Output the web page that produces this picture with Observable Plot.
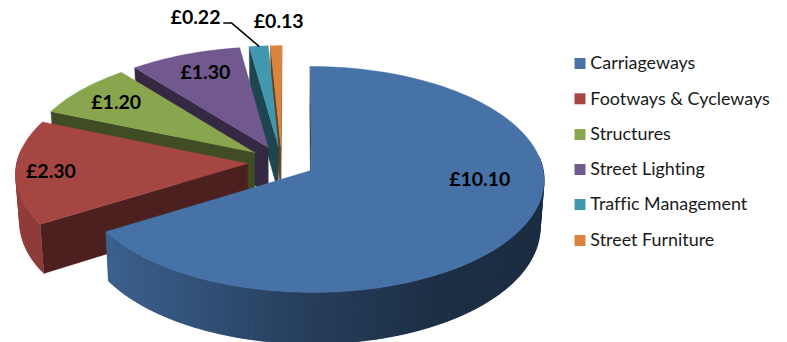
<!DOCTYPE html>
<html>
<head>
<meta charset="utf-8">
<style>html,body{margin:0;padding:0;background:#fff}svg{display:block}</style>
<script src="https://cdn.jsdelivr.net/npm/d3@7"></script>
<script src="https://cdn.jsdelivr.net/npm/@observablehq/plot@0.6"></script>
</head>
<body>
<div id="chart"></div>
<script>
// Highway maintenance spend by asset group
const categories = ["Carriageways", "Footways & Cycleways", "Structures", "Street Lighting", "Traffic Management", "Street Furniture"];
const values = [10.10, 2.30, 1.20, 1.30, 0.22, 0.13];
const colors = ["#4672A8", "#A64643", "#89A54E", "#71588F", "#4198AF", "#DB843D"];

// Value label anchors and legend rows, in the same unit space as the pie
const labelSpots = [[0.86, 0.155], [-1.0, 0.083], [-0.717, -0.539], [-0.33, -0.809], [-0.373, -1.304], [-0.012, -1.268]];
const legendRows = [-0.89, -0.572, -0.25, 0.065, 0.38, 0.705];
const legendSwatchX = 1.295;
const legendTextX = 1.34;
const leaderStart = [[-0.25, -1.254], [-0.216, -1.254]];

// Pie geometry: explosion, perspective strength and centre, extrusion depth, base shrink
const explode = 0.148;
const perspective = 0.08;
const vanishU = 0.06;
const depth = 0.423;
const baseShrink = 0.985;

const arcs = d3.pie().sort(null).value(d => d)(values);
const arcStep = Math.PI / 120;

// Projects a point on the pie's plane to unit screen space, on the top or the base
function project(u, v, isTop) {
  const s = 1 / (1 - perspective * v);
  const x = (u - vanishU) * s + vanishU;
  return isTop
    ? {x, y: v * s}
    : {x: x * baseShrink, y: v * s + depth * s};
}

// Lighter at the left of the pie, falling off toward the right
const rimShade = d3.scaleLinear().domain([-1, -0.85, 0, 0.5, 1]).range([0.88, 0.85, 0.54, 0.41, 0.39]);

const shade = (c, f) => d3.interpolateRgb("#000", c)(f);

const polygons = [];
let nextId = 0;
function addPolygon(points, fill) {
  const id = nextId++;
  [...points, points[0]].forEach(p => polygons.push({...p, id, fill}));
}

// Painted back to front, last slice first
d3.range(arcs.length - 1, -1, -1).forEach(i => {
  const {startAngle: a0, endAngle: a1} = arcs[i];
  const mid = (a0 + a1) / 2;
  const ou = explode * Math.sin(mid), ov = -explode * Math.cos(mid);
  const at = (t) => [ou + Math.sin(t), ov - Math.cos(t)];
  const c = colors[i];

  // Radial walls that face the viewer
  for (const [t, visible] of [[a0, -Math.sin(a0) > -1e-6], [a1, Math.sin(a1) > -1e-6]]) {
    if (!visible) continue;
    const [u, v] = at(t);
    addPolygon([project(ou, ov, true), project(u, v, true), project(u, v, false), project(ou, ov, false)], shade(c, 0.46));
  }

  // Outer rim: short shaded strips, each running under the next one
  const n = Math.max(1, Math.ceil((a1 - a0) / arcStep));
  const dt = (a1 - a0) / n;
  for (let k = 0; k < n; k++) {
    const t0 = a0 + dt * k, t1 = a0 + dt * Math.min(n, k + 2);
    const tm = a0 + dt * (k + 0.5);
    if (-Math.cos(tm) < -0.12) continue;
    const pts = [];
    for (let t = t0; t < t1 + dt / 2; t += dt) { const [u, v] = at(t); pts.push(project(u, v, true)); }
    for (let t = t1; t > t0 - dt / 2; t -= dt) { const [u, v] = at(t); pts.push(project(u, v, false)); }
    addPolygon(pts, shade(c, rimShade(Math.sin(tm))));
  }

  // Top face
  const top = [project(ou, ov, true)];
  for (let k = 0; k <= n; k++) {
    const [u, v] = at(a0 + dt * k);
    top.push(project(u, v, true));
  }
  addPolygon(top, c);
});

// Leader from the £0.22 label to its slice
const teal = arcs[4];
const tealMid = (teal.startAngle + teal.endAngle) / 2;
const tealTop = project((1 + explode) * Math.sin(tealMid), -(1 + explode) * Math.cos(tealMid), true);
const leader = [...leaderStart.map(([x, y]) => ({x, y})), tealTop];

const labels = values.map((v, i) => ({text: `£${v.toFixed(2)}`, x: labelSpots[i][0], y: labelSpots[i][1]}));
const legend = categories.map((name, i) => ({name, y: legendRows[i], color: colors[i]}));

const font = "Lato, 'Open Sans', sans-serif";

const chart = Plot.plot({
  width: 787,
  height: 342,
  margin: 0,
  style: {background: "#fff", fontFamily: font, fontVariantLigatures: "none"},
  x: {domain: [-1, 1], range: [50.5, 511.5], axis: null},
  y: {domain: [-1, 1], range: [50.8, 272.8], axis: null},
  color: {type: "identity"},
  marks: [
    Plot.line(polygons, {x: "x", y: "y", z: "id", fill: "fill", stroke: "fill", strokeWidth: 0.4, curve: "linear"}),
    Plot.line(leader, {x: "x", y: "y", stroke: "#000", strokeWidth: 1.5, curve: "linear"}),
    Plot.text(labels, {x: "x", y: "y", text: "text", fontSize: 19.5, fontWeight: 700, fill: "#000", textAnchor: "middle", lineAnchor: "middle"}),
    Plot.dot(legend, {x: () => legendSwatchX, y: "y", symbol: "square", r: 6.2, fill: "color", stroke: "none"}),
    Plot.text(legend, {x: () => legendTextX, y: "y", text: "name", fontSize: 17.9, fill: "#1a1a1a", textAnchor: "start", lineAnchor: "middle"})
  ]
});
document.getElementById("chart").appendChild(chart);
</script>
</body>
</html>
